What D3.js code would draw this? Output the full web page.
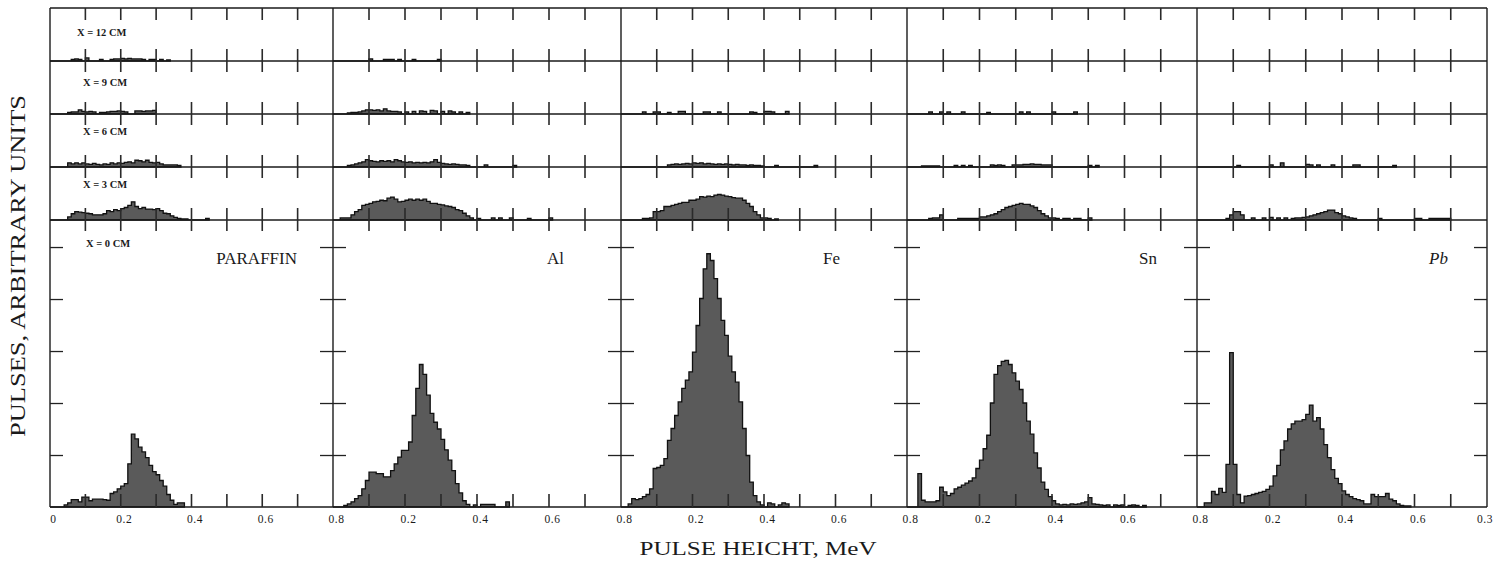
<!DOCTYPE html>
<html>
<head>
<meta charset="utf-8">
<script src="https://cdn.jsdelivr.net/npm/d3@7"></script>
<style>
  body { margin: 0; background: #fff; }
  svg { display: block; }
  text { font-family: "Liberation Serif", "DejaVu Serif", serif; fill: #1a1a1a; }
</style>
</head>
<body>
<div id="chart"></div>
<script>
// pulse-height spectra, counts per 0.01 MeV bin starting at 0 MeV (arbitrary units)
const binWidth = 0.01;
const materials = ["PARAFFIN", "Al", "Fe", "Sn", "Pb"];
const distances = ["X = 12 CM", "X = 9 CM", "X = 6 CM", "X = 3 CM", "X = 0 CM"];

// X = 12 cm
const paraffin12 = [0,0,0,0,0,0,3,4,3,0,6,0,0,0,3,0,0,3,4,4,5,4,5,4,4,4,3,0,3,3,0,3,0,2];
const al12 = [0,0,0,0,0,0,0,0,0,0,4,0,0,0,3,3,3,0,3,0,0,0,3,0,0,0,0,0,0,3];
const fe12 = [];
const sn12 = [];
const pb12 = [];

// X = 9 cm
const paraffin9 = [0,0,0,0,0,3,4,4,8,5,4,5,4,0,3,3,4,5,5,6,5,4,0,0,6,6,5,6,6,7];
const al9 = [0,0,0,0,2,3,3,4,6,8,8,7,8,6,10,6,5,5,4,0,4,0,5,0,6,5,0,7,6,0,5,0,6,4,0,4,0,3];
const fe9 = [0,0,0,0,0,0,4,0,0,4,4,0,0,3,0,0,5,5,0,0,0,0,0,4,4,0,0,4,0,0,0,0,0,0,0,0,4,3,0,0,5,5,4,0,0,0,5];
const sn9 = [0,0,0,0,0,0,4,0,0,4,0,4,0,0,0,4,0,0,0,0,0,0,3,0,0,0,0,0,0,0,0,4,0,4,0,0,0,0,0,0,4,0,0,0,0,0,4];
const pb9 = [];

// X = 6 cm
const paraffin6 = [0,0,0,0,0,8,6,8,6,8,6,5,7,5,4,6,5,8,6,8,7,9,10,8,13,12,10,13,9,8,9,6,4,4,4,4,3];
const al6 = [0,0,0,0,3,4,6,8,10,14,12,11,10,12,11,12,10,14,12,10,9,10,8,9,8,9,8,10,14,9,7,6,5,6,5,4,4,3,0,0,0,0,4,0,0,0,0,0,0,0,3];
const fe6 = [0,0,0,0,0,0,0,0,0,0,0,0,0,4,5,6,5,6,7,6,8,7,8,6,7,6,5,6,5,6,5,4,5,4,4,3,4,3,3,2,0,0,0,3,0,0,0,0,0,0,0,0,0,0,3];
const sn6 = [0,0,0,0,2,2,2,2,2,0,0,0,0,3,0,3,0,3,0,0,0,0,0,4,3,4,3,0,0,4,4,4,5,5,6,5,5,4,4,4,0,0,0,0,0,0,0,0,0,0,3,0,3];
const pb6 = [0,0,0,0,0,0,0,0,0,0,0,3,0,0,0,0,0,0,0,0,4,0,0,8,0,0,0,0,0,0,5,4,0,4,0,0,0,4,0,0,0,0,0,4,4,0,0,0,0,0,0,0,0,0,3];

// X = 3 cm
const paraffin3 = [0,0,0,0,0,6,12,16,15,14,13,12,10,10,10,12,18,16,20,18,22,24,28,35,26,22,24,21,21,20,22,18,13,12,8,5,3,2,2,0,0,0,0,0,3];
const al3 = [0,0,4,4,4,10,16,20,28,30,32,35,36,38,37,42,44,40,35,36,38,40,38,40,38,40,36,32,32,30,29,27,26,24,20,18,13,8,4,0,3,0,0,0,4,0,4,0,0,4,0,0,0,0,3,0,0,0,0,0,4];
const fe3 = [0,0,0,0,0,0,3,3,4,16,16,18,26,26,28,30,32,34,34,38,38,40,45,44,46,45,48,49,48,46,45,43,42,42,38,32,26,16,10,4,4,3,0,2];
const sn3 = [0,0,0,0,0,0,3,4,4,10,0,0,0,0,3,3,3,3,3,3,6,6,8,10,12,16,20,24,26,28,30,32,30,30,27,24,18,12,8,4,4,3,0,3,3,0,3,3,0,0,4];
const pb3 = [0,0,0,0,0,0,0,0,3,10,16,16,10,0,0,4,0,0,4,0,5,0,4,0,4,0,3,4,4,5,6,8,10,12,14,16,19,19,14,12,8,6,4,3,0,0,0,0,0,0,3,0,0,0,0,0,0,0,0,0,3,3,0,0,3,3,3,3,3,3];

// X = 0 cm
const paraffin0 = [0,0,0,0,4,8,14,14,10,19,19,12,15,15,15,14,13,26,29,35,40,45,83,140,131,115,106,95,80,68,62,51,40,24,13,5,8,8];
const al0 = [0,0,0,3,6,10,16,22,35,51,67,67,64,64,58,58,70,83,96,109,109,125,176,228,274,255,215,180,163,150,130,110,90,70,45,27,12,5,0,4,0,5,5,5,5,0,0,0,10];
const fe0 = [0,0,6,16,14,16,20,24,35,74,76,80,93,128,151,176,202,228,244,260,298,349,401,458,487,474,439,401,359,330,290,260,240,202,151,99,48,22,10,4,0,8,6,0,4,8,6];
const sn0 = [0,0,0,64,13,10,10,10,12,38,29,22,26,35,38,42,46,50,56,74,90,112,138,200,255,272,280,282,274,258,242,226,200,165,140,104,75,48,34,20,12,6,4,5,4,6,5,6,8,10,18,6,5,4,3,4,0,4,3,4,0,3,4,3,0,3];
const pb0 = [0,0,8,8,30,24,36,28,82,297,82,24,8,21,22,24,26,28,30,34,40,60,80,110,127,150,160,165,165,168,178,196,165,172,150,120,95,72,55,45,31,24,20,16,14,12,6,6,24,20,20,20,26,15,12,6,3,2,2];

// axis ticks
const xMinorTicks = [0.1, 0.2, 0.3, 0.4, 0.5, 0.6, 0.7];
const yTicks = [100, 200, 300, 400, 500];
const firstColLabels = [[0, "0"], [0.2, "0.2"], [0.4, "0.4"], [0.6, "0.6"], [0.8, "0.8"]];
const midColLabels = [[0.2, "0.2"], [0.4, "0.4"], [0.6, "0.6"], [0.8, "0.8"]];
const lastColLabels = [[0.2, "0.2"], [0.4, "0.4"], [0.6, "0.6"], [0.8, "0.3"]];

// rows = distances, cols = materials
const spectra = [
  [paraffin12, al12, fe12, sn12, pb12],
  [paraffin9, al9, fe9, sn9, pb9],
  [paraffin6, al6, fe6, sn6, pb6],
  [paraffin3, al3, fe3, sn3, pb3],
  [paraffin0, al0, fe0, sn0, pb0]
];

// layout
const width = 1496, height = 563;
const colEdges = [50, 333, 621, 907, 1197, 1487];
const frameTop = 8;
const baselines = [61, 114, 167, 220, 507];
const labelInset = [36, 57, 67, 40, 39];

const svg = d3.select("#chart").append("svg")
  .attr("width", width)
  .attr("height", height);

// counts -> pixel height, same scale in all strips
const unit = d3.scaleLinear().domain([0, 100]).range([0, 52]);
const yMain = d3.scaleLinear().domain([0, 552]).range([baselines[4], baselines[3]]);

const xScales = materials.map((m, c) =>
  d3.scaleLinear().domain([0, 0.8]).range([colEdges[c], colEdges[c + 1]]));

// histograms
const histG = svg.append("g");
spectra.forEach((row, r) => {
  const base = baselines[r];
  row.forEach((vals, c) => {
    if (!vals.length) return;
    const x = xScales[c];
    const pts = vals.map((v, i) => ({ e: i * binWidth, v: v }));
    pts.push({ e: vals.length * binWidth, v: 0 });
    const area = d3.area()
      .x(d => x(d.e))
      .y0(base)
      .y1(d => base - unit(d.v))
      .curve(d3.curveStepAfter);
    histG.append("path")
      .attr("d", area(pts))
      .attr("fill", "#5a5a5a")
      .attr("stroke", "#111")
      .attr("stroke-width", 1.3)
      .attr("stroke-linejoin", "miter");
  });
});

// frame
const frame = svg.append("g")
  .attr("stroke", "#1a1a1a")
  .attr("stroke-width", 1.4)
  .attr("fill", "none");

frame.append("line")
  .attr("x1", colEdges[0]).attr("x2", colEdges[5])
  .attr("y1", frameTop).attr("y2", frameTop);
baselines.forEach(b => {
  frame.append("line")
    .attr("x1", colEdges[0]).attr("x2", colEdges[5])
    .attr("y1", b).attr("y2", b);
});
colEdges.forEach(e => {
  frame.append("line")
    .attr("x1", e).attr("x2", e)
    .attr("y1", frameTop).attr("y2", baselines[4]);
});

// x tick marks: top border, across each strip baseline, up from the bottom axis
const tickSegs = [];
xScales.forEach(x => {
  xMinorTicks.forEach(t => {
    const px = x(t);
    tickSegs.push([px, frameTop, px, frameTop + 12]);
    baselines.slice(0, 4).forEach(b => tickSegs.push([px, b - 12, px, b + 11]));
    tickSegs.push([px, baselines[4] - 13, px, baselines[4]]);
  });
});
svg.append("path")
  .attr("d", tickSegs.map(s => `M${s[0]},${s[1]}L${s[2]},${s[3]}`).join(""))
  .attr("fill", "none")
  .attr("stroke", "#2a2a2a")
  .attr("stroke-width", 1.6);

// y tick marks on each column edge of the X = 0 panel
colEdges.forEach((e, i) => {
  const ay = d3.axisRight(yMain).tickValues(yTicks).tickFormat("").tickSizeOuter(0);
  const g = svg.append("g").attr("transform", `translate(${e},0)`).call(ay);
  g.select(".domain").remove();
  g.selectAll(".tick line")
    .attr("x1", i === 0 ? 0 : -13)
    .attr("x2", i === colEdges.length - 1 ? 0 : 13)
    .attr("stroke", "#222")
    .attr("stroke-width", 1.3);
});

// tick labels
xScales.forEach((x, c) => {
  const labels = c === 0 ? firstColLabels : (c === materials.length - 1 ? lastColLabels : midColLabels);
  labels.forEach(([v, s]) => {
    const last = c === materials.length - 1 && v === 0.8;
    svg.append("text")
      .attr("x", last ? x(v) - 2 : x(v) + 3.5)
      .attr("y", 523)
      .attr("text-anchor", "middle")
      .attr("font-size", 11.5)
      .attr("letter-spacing", 0.6)
      .text(s);
  });
});

// distance labels
const distX = [77, 83, 83, 83, 86];
const distY = [36, 86, 135, 188, 247];
distances.forEach((d, r) => {
  svg.append("text")
    .attr("x", distX[r])
    .attr("y", distY[r])
    .attr("font-size", 10.5)
    .attr("font-weight", "bold")
    .text(d);
});

// material labels
materials.forEach((m, c) => {
  svg.append("text")
    .attr("x", colEdges[c + 1] - labelInset[c])
    .attr("y", 264)
    .attr("text-anchor", "end")
    .attr("font-size", 17)
    .attr("font-style", m === "Pb" ? "italic" : "normal")
    .text(m);
});

// axis titles
svg.append("text")
  .attr("x", 758)
  .attr("y", 555)
  .attr("text-anchor", "middle")
  .attr("font-size", 19)
  .attr("textLength", 237)
  .attr("lengthAdjust", "spacingAndGlyphs")
  .text("PULSE HEICHT, MeV");

svg.append("text")
  .attr("transform", "translate(25,266) rotate(-90)")
  .attr("text-anchor", "middle")
  .attr("font-size", 20)
  .attr("textLength", 342)
  .attr("lengthAdjust", "spacingAndGlyphs")
  .text("PULSES, ARBITRARY UNITS");
</script>
</body>
</html>
